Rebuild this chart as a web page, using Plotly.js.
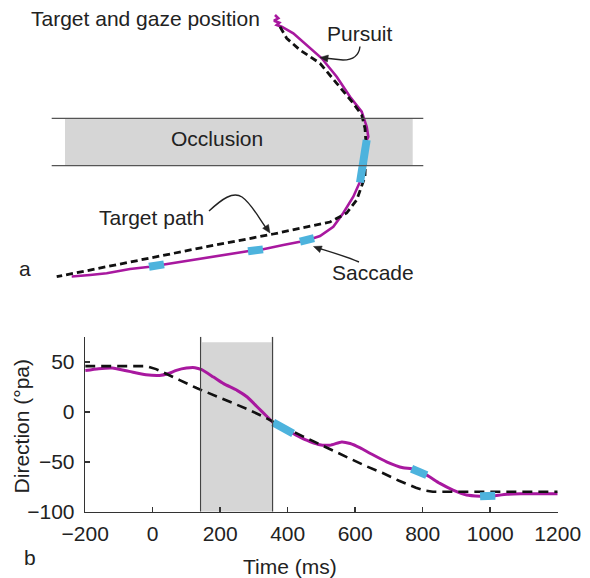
<!DOCTYPE html>
<html>
<head>
<meta charset="utf-8">
<script src="https://cdn.plot.ly/plotly-3.0.1.min.js"></script>
<style>html,body{margin:0;padding:0;background:#fff;}#chart{width:590px;height:578px;}</style>
</head>
<body>
<div id="chart"></div>
<script>
// ---------- Panel b: direction over time ----------
var xTicks = [-200, 0, 200, 400, 600, 800, 1000, 1200];
var yTicks = [-100, -50, 0, 50];

var targetTime = [-200, -20, 10, 40, 80, 130, 180, 230, 280, 330, 380, 430, 480, 530, 580, 630, 680, 730, 780, 810, 830, 1200];
var targetDir  = [46, 46, 43, 38, 32, 24, 17, 10, 3, -5, -14, -22, -30, -38, -46, -54, -61, -69, -76, -79, -80, -80];

var gazeTime = [-200, -160, -120, -70, -20, 20, 45, 70, 100, 125, 145, 180, 210, 250, 280, 310, 340, 357, 375, 395, 416, 456, 491, 525, 560, 585, 615, 645, 693, 742, 767, 790, 812, 851, 890, 930, 970, 993, 1015, 1050, 1090, 1140, 1200];
var gazeDir  = [41.5, 43.4, 44, 40.7, 37.4, 36.7, 38.4, 41.7, 44, 44.4, 42.4, 35, 28.4, 21.7, 15, 5, -5, -10.6, -14, -18, -21.6, -28.3, -32.6, -33.3, -30, -31.6, -36, -41.6, -50, -56, -57, -60, -63.3, -71.6, -78.3, -83.3, -84.6, -84.8, -84, -82.6, -82, -82, -82];

var saccTime = [357, 375, 395, 416, null, 767, 790, 812, null, 970, 993, 1015];
var saccDir  = [-10.6, -14, -18, -21.6, null, -57, -60, -63.3, null, -84.6, -84.8, -84];

var occlusionTime = [142, 355];

// ---------- Panel a: spatial paths (picture units) ----------
var targetPathX = [280, 286.7, 300, 320, 336.7, 353.3, 361.7, 365, 366, 365, 365, 356.7, 346.7, 330, 273.3, 206.7, 140, 90, 56.7];
var targetPathY = [26.7, 38.3, 50, 63.3, 83.3, 103.3, 115, 128.3, 143.3, 166.7, 176.7, 200, 213, 222, 234, 246.7, 260, 270, 276.7];

var gazePathX = [275, 278.3, 274, 279.3, 276.7, 281.7, 293.3, 308.3, 321.7, 336.7, 350, 361.7, 366.7, 368.3, 366.7, 363.3, 360, 353.3, 343.3, 333.3, 320, 313.3, 300, 283.3, 266.7, 262, 249, 233.3, 206.7, 180, 163, 150, 130, 106.7, 90, 71.7];
var gazePathY = [15, 18.3, 20.7, 22.7, 25, 26.7, 33.3, 46.7, 58.3, 76.7, 96.7, 111.7, 126.7, 136.7, 140, 160, 181.7, 196.7, 213, 226.7, 236, 238.3, 241.7, 245, 248.5, 249.5, 251, 253.5, 258.3, 262, 264.5, 266.7, 269, 273.3, 275, 276.5];

var saccPathX = [366.7, 363.3, 360, null, 314, 300, null, 263, 248, null, 164, 149];
var saccPathY = [140, 160, 182.5, null, 238.2, 241.7, null, 249.4, 251.2, null, 264.4, 266.8];

var MAGENTA = '#A8189F', CYAN = '#4DB3DD', GRAY = '#D6D6D6', INK = '#222';
var FONT = 'Liberation Sans, Arial, Helvetica, sans-serif';
var FS = 21;

var traces = [
  {x: gazePathX, y: gazePathY, xaxis: 'x2', yaxis: 'y2', mode: 'lines', line: {color: MAGENTA, width: 2.6}, hoverinfo: 'skip'},
  {x: targetPathX, y: targetPathY, xaxis: 'x2', yaxis: 'y2', mode: 'lines', line: {color: '#111', width: 2.8, dash: '7px,4px'}, hoverinfo: 'skip'},
  {x: saccPathX, y: saccPathY, xaxis: 'x2', yaxis: 'y2', mode: 'lines', connectgaps: false, line: {color: CYAN, width: 8}, hoverinfo: 'skip'},
  {x: gazeTime, y: gazeDir, mode: 'lines', line: {color: MAGENTA, width: 3, shape: 'spline', smoothing: 0.6}, hoverinfo: 'skip'},
  {x: targetTime, y: targetDir, mode: 'lines', line: {color: '#111', width: 2.6, dash: '10px,6px'}, hoverinfo: 'skip'},
  {x: saccTime, y: saccDir, mode: 'lines', connectgaps: false, line: {color: CYAN, width: 8}, hoverinfo: 'skip'}
];

function head(hx, hy, dx, dy) {
  var L = Math.sqrt(dx*dx + dy*dy); dx /= L; dy /= L;
  var nx = -dy, ny = dx, len = 8, w = 3.5;
  var bx = hx - dx*len, by = hy - dy*len;
  return 'M' + hx + ',' + hy + ' L' + (bx + nx*w) + ',' + (by + ny*w) + ' L' + (bx - nx*w) + ',' + (by - ny*w) + ' Z';
}
function a2(path, fill) {
  return {type: 'path', xref: 'x2', yref: 'y2', path: path,
          line: {color: INK, width: fill ? 0.5 : 1.4}, fillcolor: fill ? INK : 'rgba(0,0,0,0)'};
}

var shapes = [
  // panel a occlusion band
  {type: 'rect', xref: 'x2', yref: 'y2', x0: 65, x1: 412.7, y0: 118.3, y1: 165.7, fillcolor: GRAY, line: {width: 0}, layer: 'below'},
  {type: 'line', xref: 'x2', yref: 'y2', x0: 51.7, x1: 423.3, y0: 118.3, y1: 118.3, line: {color: '#555', width: 1.3}},
  {type: 'line', xref: 'x2', yref: 'y2', x0: 51.7, x1: 423.3, y0: 165.7, y1: 165.7, line: {color: '#555', width: 1.3}},
  // curved arrows
  a2('M360,46.5 C359,55 353,60 343,60 L324,58', false),
  a2(head(320, 57.4, -12, -1.7), true),
  a2('M209,211 C222,199 233,191 242,197 C252,204 260,220 267,229', false),
  a2(head(270, 233, 5, 7.5), true),
  a2('M359,262 C345,256 331,252 318,248', false),
  a2(head(313.5, 246.5, -10.5, -4), true),
  // panel b occlusion
  {type: 'rect', xref: 'x', yref: 'y', x0: occlusionTime[0] + 4, x1: occlusionTime[1] - 3, y0: -100, y1: 70, fillcolor: GRAY, line: {width: 0}, layer: 'below'},
  {type: 'line', xref: 'x', yref: 'y', x0: occlusionTime[0], x1: occlusionTime[0], y0: -100, y1: 75.5, line: {color: '#444', width: 1.3}},
  {type: 'line', xref: 'x', yref: 'y', x0: occlusionTime[1], x1: occlusionTime[1], y0: -100, y1: 75.5, line: {color: '#444', width: 1.3}}
];

function t2(text, x, y, xa) {
  return {text: text, x: x, y: y, xref: 'x2', yref: 'y2', xanchor: xa || 'left', yanchor: 'middle', showarrow: false, font: {family: FONT, size: FS, color: INK}};
}
function tp(text, px, py, xa, ang) {
  return {text: text, x: px / 590, y: 1 - py / 578, xref: 'paper', yref: 'paper', xanchor: xa || 'center', yanchor: 'middle', showarrow: false, textangle: ang || 0, font: {family: FONT, size: FS, color: INK}};
}

var annotations = [
  t2('Target and gaze position', 29, 18),
  t2('Pursuit', 325, 33.5),
  t2('Occlusion', 216.7, 138, 'center'),
  t2('Target path', 97, 217.5),
  t2('Saccade', 330, 272.5),
  t2('a', 17, 268),
  tp('b', 21.7, 557, 'left'),
  tp('Time (ms)', 290, 566.7),
  tp('Direction (°pa)', 21.7, 426.7, 'center', -90)
];

var axisStyle = {showline: true, linecolor: '#333', linewidth: 1.5, ticks: 'inside', ticklen: 5, tickwidth: 1.5, tickcolor: '#333',
                 showgrid: false, zeroline: false, tickfont: {family: FONT, size: FS, color: INK}, fixedrange: true};

var layout = {
  width: 590, height: 578,
  margin: {l: 0, r: 0, t: 0, b: 0},
  paper_bgcolor: '#fff', plot_bgcolor: 'rgba(0,0,0,0)',
  showlegend: false,
  xaxis: Object.assign({}, axisStyle, {domain: [85.2/590, 557.7/590], range: [-200, 1200], tickvals: xTicks, anchor: 'y', ticklabelstandoff: 3}),
  yaxis: Object.assign({}, axisStyle, {domain: [(578-511.7)/578, (578-336.7)/578], range: [-100, 75.5], tickvals: yTicks, anchor: 'x', ticklabelstandoff: 5}),
  xaxis2: {domain: [0, 1], range: [0, 590], visible: false, anchor: 'y2', fixedrange: true},
  yaxis2: {domain: [1 - 300/578, 1], range: [300, 0], visible: false, anchor: 'x2', fixedrange: true},
  shapes: shapes,
  annotations: annotations
};

Plotly.newPlot('chart', traces, layout, {staticPlot: true, displayModeBar: false});
</script>
</body>
</html>
